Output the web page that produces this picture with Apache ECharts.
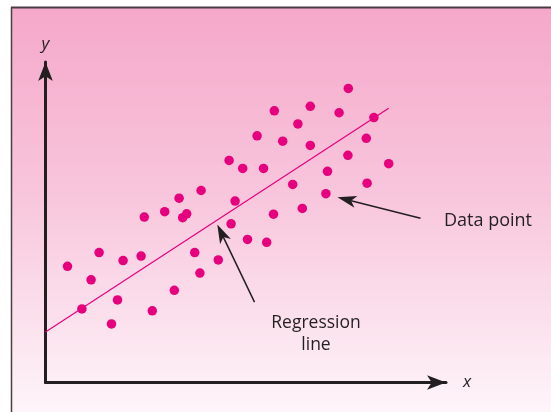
<!DOCTYPE html>
<html><head><meta charset="utf-8">
<script src="https://cdn.jsdelivr.net/npm/echarts@6/dist/echarts.min.js"></script>
<style>html,body{margin:0;padding:0;background:#fff}#c{width:551px;height:412px}</style>
</head><body><div id="c"></div>
<script>
// Data (abstract units)
const xValues = [0.55,1.14,1.34,0.91,1.65,1.80,1.94,2.39,2.47,2.67,2.98,3.22,3.34,3.43,3.53,3.73,3.86,3.89,4.32,4.59,4.64,4.74,4.93,5.05,5.29,5.45,5.53,5.70,5.72,5.93,6.18,6.31,6.42,6.62,6.62,7.01,7.05,7.34,7.56,7.57,8.02,8.04,8.21,8.58];
const yValues = [3.63,3.21,4.06,2.30,1.83,2.58,3.81,3.95,5.17,2.24,5.34,2.88,5.76,5.15,5.27,4.06,3.42,6.00,3.83,6.94,4.96,5.67,6.69,4.47,7.71,6.69,4.38,5.26,8.49,7.54,6.19,8.08,5.44,7.41,8.63,5.90,6.60,8.43,7.10,9.19,7.63,6.23,8.28,6.84];
const regressionX = [0, 8.58];
const regressionY = [1.58, 8.57];
const axisNames = ['x', 'y'];
const annotationTexts = ['Data point', 'Regression\nline'];
// annotation arrows [fromX, fromY, tipX, tipY] in data units
const dataPointArrow = [9.375, 5.13, 7.30, 5.79];
const regressionArrow = [5.225, 2.51, 4.295, 4.94];

const PINK = '#e6007e';
const INK = '#231f20';
const FONT = 'Open Sans';

const chart = echarts.init(document.getElementById('c'), null, {renderer: 'canvas'});
const points = xValues.map((x, i) => [x, yValues[i]]);
const regLine = regressionX.map((x, i) => [x, regressionY[i]]);

const axisCommon = {
  type: 'value', min: 0,
  splitLine: {show: false}, axisTick: {show: false}, axisLabel: {show: false},
  axisLine: {show: true, onZero: false, symbol: ['none', 'arrow'], symbolSize: [11, 19],
    lineStyle: {color: INK, width: 3}},
  nameTextStyle: {fontFamily: FONT, fontStyle: 'italic', fontSize: 17, color: INK}
};

chart.setOption({
  backgroundColor: '#ffffff',
  animation: false,
  grid: {left: 45.5, top: 62, right: 105, bottom: 29.5, containLabel: false},
  xAxis: Object.assign({}, axisCommon, {max: 10.0125, name: axisNames[0], nameLocation: 'end', nameGap: 17}),
  yAxis: Object.assign({}, axisCommon, {max: 10.016, name: axisNames[1], nameLocation: 'end', nameGap: 9}),
  series: [
    {type: 'line', data: regLine, showSymbol: false, symbol: 'none',
      lineStyle: {color: PINK, width: 1.2}, z: 2, silent: true},
    {type: 'scatter', data: points, symbolSize: 9.5, itemStyle: {color: PINK, opacity: 1}, z: 3}
  ]
});

function arrowGraphics(arr) {
  const s = chart.convertToPixel({gridIndex: 0}, [arr[0], arr[1]]);
  const t = chart.convertToPixel({gridIndex: 0}, [arr[2], arr[3]]);
  const dx = t[0] - s[0], dy = t[1] - s[1];
  const len = Math.sqrt(dx * dx + dy * dy);
  const ux = dx / len, uy = dy / len;
  const nx = -uy, ny = ux;
  const L = 19, W = 6, notch = 5;
  const back = [t[0] - ux * (L - notch), t[1] - uy * (L - notch)];
  return [
    {type: 'line', shape: {x1: s[0], y1: s[1], x2: back[0], y2: back[1]},
      style: {stroke: INK, lineWidth: 1.5}, z: 50},
    {type: 'polygon', shape: {points: [
      [t[0], t[1]],
      [t[0] - ux * L + nx * W, t[1] - uy * L + ny * W],
      back,
      [t[0] - ux * L - nx * W, t[1] - uy * L - ny * W]
    ]}, style: {fill: INK}, z: 50}
  ];
}

chart.setOption({
  graphic: [
    {type: 'rect', shape: {x: 11, y: 7, width: 560, height: 420}, z: -100,
      style: {fill: new echarts.graphic.LinearGradient(0, 0, 0, 1, [
        {offset: 0, color: '#f5a8ca'},
        {offset: 0.45, color: '#f8c6dc'},
        {offset: 1, color: '#fef8fb'}
      ])}},
    {type: 'line', shape: {x1: 11.5, y1: 7, x2: 11.5, y2: 412}, style: {stroke: '#4a4044', lineWidth: 1.5}, z: -90},
    {type: 'line', shape: {x1: 11, y1: 7.5, x2: 551, y2: 7.5}, style: {stroke: '#4a3a44', lineWidth: 2}, z: -90},
    {type: 'text', x: 488, y: 221, z: 50, style: {text: annotationTexts[0], fontFamily: FONT, fontSize: 18,
      fill: INK, align: 'center', verticalAlign: 'middle'}},
    {type: 'text', x: 316, y: 334, z: 50, style: {text: annotationTexts[1], fontFamily: FONT, fontSize: 17.5,
      lineHeight: 21.5, fill: INK, align: 'center', verticalAlign: 'middle'}}
  ].concat(arrowGraphics(dataPointArrow), arrowGraphics(regressionArrow))
});
</script></body></html>
